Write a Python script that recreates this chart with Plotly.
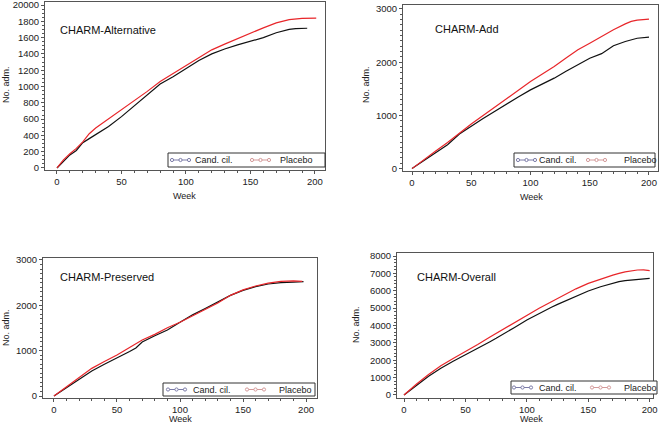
import plotly.graph_objects as go

# CHARM-Alternative
ALT_CAND_WEEK = [0, 5, 10, 15, 20, 25, 30, 35, 40, 50, 60, 70, 80, 90, 100, 110, 120, 130, 140, 150, 160, 170, 180, 185, 194]
ALT_CAND = [0, 80, 160, 215, 310, 360, 410, 460, 510, 630, 760, 890, 1030, 1120, 1220, 1320, 1400, 1460, 1510, 1555, 1600, 1660, 1700, 1710, 1715]
ALT_PLAC_WEEK = [0, 5, 10, 15, 20, 25, 30, 35, 40, 50, 60, 70, 80, 90, 100, 110, 120, 130, 140, 150, 160, 170, 180, 190, 201]
ALT_PLAC = [0, 100, 175, 240, 320, 420, 490, 545, 600, 720, 830, 940, 1060, 1160, 1260, 1360, 1450, 1520, 1590, 1660, 1720, 1780, 1820, 1835, 1840]

# CHARM-Add
ADD_CAND_WEEK = [0, 10, 20, 30, 40, 50, 60, 70, 80, 90, 100, 110, 120, 130, 140, 150, 160, 170, 180, 190, 200]
ADD_CAND = [0, 150, 290, 450, 650, 800, 940, 1080, 1220, 1350, 1480, 1590, 1700, 1830, 1960, 2075, 2160, 2310, 2390, 2450, 2470]
ADD_PLAC_WEEK = [0, 10, 20, 30, 40, 50, 60, 70, 80, 90, 100, 110, 120, 130, 140, 150, 160, 170, 180, 185, 190, 200]
ADD_PLAC = [0, 170, 330, 490, 670, 840, 1000, 1160, 1320, 1480, 1635, 1780, 1918, 2080, 2233, 2358, 2490, 2610, 2720, 2767, 2790, 2810]

# CHARM-Preserved
PRE_CAND_WEEK = [0, 10, 20, 30, 40, 50, 60, 65, 70, 80, 90, 100, 110, 120, 130, 140, 150, 160, 170, 180, 190, 198]
PRE_CAND = [0, 180, 370, 550, 700, 831, 980, 1060, 1190, 1330, 1456, 1625, 1790, 1930, 2070, 2220, 2330, 2412, 2470, 2500, 2510, 2522]
PRE_PLAC_WEEK = [0, 10, 20, 30, 40, 50, 60, 70, 80, 90, 100, 110, 120, 130, 140, 150, 160, 170, 180, 190, 197]
PRE_PLAC = [0, 200, 420, 610, 760, 904, 1070, 1235, 1360, 1507, 1625, 1770, 1900, 2050, 2220, 2340, 2426, 2490, 2530, 2540, 2530]

# CHARM-Overall
OVR_CAND_WEEK = [0, 10, 20, 25, 30, 40, 50, 60, 70, 75, 80, 90, 100, 110, 120, 125, 130, 140, 150, 160, 170, 175, 180, 190, 200]
OVR_CAND = [0, 560, 1080, 1304, 1540, 1940, 2302, 2700, 3070, 3261, 3460, 3890, 4316, 4700, 5050, 5218, 5380, 5700, 5985, 6230, 6440, 6522, 6580, 6657, 6714]
OVR_PLAC_WEEK = [0, 10, 20, 25, 30, 40, 50, 60, 70, 75, 80, 90, 100, 110, 120, 125, 130, 140, 150, 160, 170, 175, 180, 190, 195, 200]
OVR_PLAC = [0, 620, 1180, 1439, 1680, 2100, 2494, 2910, 3340, 3549, 3760, 4180, 4604, 4990, 5370, 5563, 5760, 6110, 6426, 6680, 6900, 7002, 7090, 7194, 7200, 7155]

ALT_YTICKS = [0, 200, 400, 600, 800, 1000, 1200, 1400, 1600, 1800, 2000]
ALT_YTEXT = ["0", "200", "400", "600", "800", "1000", "1200", "1400", "1600", "1800", "20000"]

SERIES_NAMES = ["Cand. cil.", "Placebo"]

W, H = 660, 425
FONT = "Liberation Sans, Arial, sans-serif"
AXIS_COLOR = "#555555"
TEXT_COLOR = "#222222"


def fx(px):
    return px / W


def fy(py):
    return 1 - py / H


panels = [
    dict(name="CHARM-Alternative", cand=(ALT_CAND_WEEK, ALT_CAND), plac=(ALT_PLAC_WEEK, ALT_PLAC),
         xpx=(45, 325), ypx=(2, 170), yr=[-25, 2037], xr=[-9.3, 207.8], ydt=200, ymin=50,
         tpos=(58, 30), week=(185, 196), ylab=(6, 85),
         leg=dict(box=(168, 153, 325, 167), g=(172, 252), t=(193, 278))),
    dict(name="CHARM-Add", cand=(ADD_CAND_WEEK, ADD_CAND), plac=(ADD_PLAC_WEEK, ADD_PLAC),
         xpx=(403, 658), ypx=(5, 171), yr=[-45, 3075], xr=[-7.6, 207.6], ydt=1000, ymin=100,
         tpos=(433, 29), week=(531, 197), ylab=(366, 85),
         leg=dict(box=(514, 153, 655, 167), g=(518, 588), t=(537, 622))),
    dict(name="CHARM-Preserved", cand=(PRE_CAND_WEEK, PRE_CAND), plac=(PRE_PLAC_WEEK, PRE_PLAC),
         xpx=(43, 317), ypx=(258, 398), yr=[-44, 3044], xr=[-8.7, 208.7], ydt=1000, ymin=100,
         tpos=(58, 277), week=(180, 419), ylab=(6, 328),
         leg=dict(box=(163, 383, 315, 396), g=(168, 247), t=(191, 277))),
    dict(name="CHARM-Overall", cand=(OVR_CAND_WEEK, OVR_CAND), plac=(OVR_PLAC_WEEK, OVR_PLAC),
         xpx=(397, 653), ypx=(253, 398), yr=[-173, 8173], xr=[-5.7, 202.7], ydt=1000, ymin=200,
         tpos=(415, 277), week=(531, 419), ylab=(356, 325),
         leg=dict(box=(511, 381, 657, 394), g=(514, 592), t=(537, 622))),
]

GLYPH_COLORS = ["#7c7ca8", "#d49a9a"]
LINE_COLORS = ["#111111", "#e8262a"]

fig = go.Figure()
layout = {}
annotations = []
shapes = []

for i, p in enumerate(panels, start=1):
    sfx = "" if i == 1 else str(i)
    xa, ya = "x" + sfx, "y" + sfx

    for (wk, val), color in zip([p["cand"], p["plac"]], LINE_COLORS):
        fig.add_trace(go.Scatter(x=wk, y=val, mode="lines", xaxis=xa, yaxis=ya,
                                 line=dict(color=color, width=1.2), showlegend=False,
                                 hoverinfo="x+y"))

    axis_common = dict(showline=True, linecolor=AXIS_COLOR, linewidth=1, mirror=True,
                       showgrid=False, zeroline=False, ticks="outside", ticklen=3,
                       tickcolor=AXIS_COLOR, automargin=False, ticklabeloverflow="allow",
                       tickfont=dict(size=9.5, color=TEXT_COLOR))
    layout["xaxis" + sfx] = dict(
        **axis_common, domain=[fx(p["xpx"][0]), fx(p["xpx"][1])], range=p["xr"], anchor=ya,
        tickmode="linear", tick0=0, dtick=50,
        minor=dict(ticks="outside", ticklen=2, dtick=10, tickcolor=AXIS_COLOR),
    )
    ydict = dict(
        **axis_common, domain=[fy(p["ypx"][1]), fy(p["ypx"][0])], range=p["yr"], anchor=xa,
        minor=dict(ticks="outside", ticklen=2, dtick=p["ymin"], tickcolor=AXIS_COLOR),
    )
    if i == 1:
        ydict.update(tickmode="array", tickvals=ALT_YTICKS, ticktext=ALT_YTEXT)
    else:
        ydict.update(tickmode="linear", tick0=0, dtick=p["ydt"])
    layout["yaxis" + sfx] = ydict

    # panel title
    annotations.append(dict(text=p["name"], x=fx(p["tpos"][0]), y=fy(p["tpos"][1]),
                            xanchor="left", yanchor="middle",
                            font=dict(size=11, color="#111111")))
    # axis titles
    annotations.append(dict(text="Week", x=fx(p["week"][0]), y=fy(p["week"][1]),
                            xanchor="center", yanchor="middle",
                            font=dict(size=9, color=TEXT_COLOR)))
    annotations.append(dict(text="No. adm.", x=fx(p["ylab"][0]), y=fy(p["ylab"][1]),
                            xanchor="center", yanchor="middle", textangle=-90,
                            font=dict(size=9, color=TEXT_COLOR)))

    # hand-drawn legend box
    l, t, r, b = p["leg"]["box"]
    shapes.append(dict(type="rect", xref="paper", yref="paper",
                       x0=fx(l), x1=fx(r), y0=fy(b), y1=fy(t),
                       line=dict(color="#333333", width=1), fillcolor="white"))
    yc = (t + b) / 2
    for gx, tx, name, gc in zip(p["leg"]["g"], p["leg"]["t"], SERIES_NAMES, GLYPH_COLORS):
        shapes.append(dict(type="line", xref="paper", yref="paper",
                           x0=fx(gx), x1=fx(gx + 17), y0=fy(yc), y1=fy(yc),
                           line=dict(color=gc, width=1)))
        for cx in (gx, gx + 8.5, gx + 17):
            shapes.append(dict(type="circle", xref="paper", yref="paper",
                               x0=fx(cx - 1.6), x1=fx(cx + 1.6),
                               y0=fy(yc + 1.6), y1=fy(yc - 1.6),
                               line=dict(color=gc, width=1), fillcolor="white"))
        annotations.append(dict(text=name, x=fx(tx), y=fy(yc), xanchor="left",
                                yanchor="middle", font=dict(size=9, color=TEXT_COLOR)))

for a in annotations:
    a.update(xref="paper", yref="paper", showarrow=False)

fig.update_layout(
    **layout,
    annotations=annotations,
    shapes=shapes,
    width=W, height=H,
    margin=dict(l=0, r=0, t=0, b=0),
    paper_bgcolor="white", plot_bgcolor="white",
    font=dict(family=FONT, size=10, color=TEXT_COLOR),
    showlegend=False,
)

fig.write_html("out.html", config={"displayModeBar": False},
               post_script="document.body.style.margin='0px';")
